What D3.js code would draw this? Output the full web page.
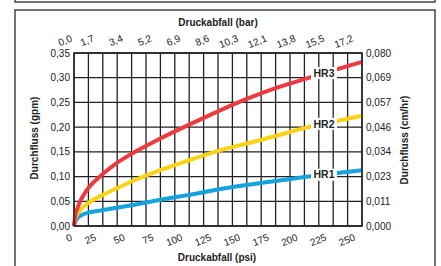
<!DOCTYPE html>
<html>
<head>
<meta charset="utf-8">
<script src="https://cdn.jsdelivr.net/npm/d3@7"></script>
<style>
  body { margin: 0; background: #fff; }
  text { font-family: "Liberation Sans", Arial, sans-serif; fill: #222; }
</style>
</head>
<body>
<div id="chart"></div>
<script>
"use strict";

var w = 441,
  h = 266;

// pressure drop (psi) sample points shared by all series
var psi = [0, 1, 3, 5, 11, 25, 37, 50, 75, 100, 125, 150, 175, 200, 225, 250];
var hr1 = [0, 0.008, 0.016, 0.020, 0.026, 0.032, 0.037, 0.042, 0.053, 0.063, 0.074, 0.083, 0.091, 0.099, 0.106, 0.113];
var hr2 = [0, 0.014, 0.024, 0.031, 0.044, 0.063, 0.076, 0.090, 0.113, 0.133, 0.152, 0.167, 0.182, 0.198, 0.211, 0.223];
var hr3 = [0, 0.020, 0.036, 0.048, 0.072, 0.105, 0.127, 0.146, 0.177, 0.205, 0.232, 0.257, 0.279, 0.297, 0.315, 0.332];
var seriesNames = ["HR1", "HR2", "HR3"];
var seriesColors = ["#14a3df", "#fcd215", "#ec3a40"];

var psiTicks = [0, 25, 50, 75, 100, 125, 150, 175, 200, 225, 250];
var barLabels = ["0,0", "1,7", "3,4", "5,2", "6,9", "8,6", "10,3", "12,1", "13,8", "15,5", "17,2"];
var gpmTicks = [0, 0.05, 0.10, 0.15, 0.20, 0.25, 0.30, 0.35];
var cmhrLabels = ["0,000", "0,011", "0,023", "0,034", "0,046", "0,057", "0,069", "0,080"];
var labelPsi = 217;

var svg = d3.select("#chart").append("svg").attr("width", w).attr("height", h);

var x = d3.scaleLinear().domain([0, 250]).range([74, 362]);
var y = d3.scaleLinear().domain([0, 0.35]).range([226, 53]);

// outer frames
svg.append("path")
  .attr("d", "M15,0V2H435V0")
  .attr("fill", "none").attr("stroke", "#444").attr("stroke-width", 1.5);
svg.append("rect")
  .attr("x", 15).attr("y", 10).attr("width", 420).attr("height", 270)
  .attr("fill", "none").attr("stroke", "#444").attr("stroke-width", 1.5);

// grid
var grid = svg.append("g").attr("stroke", "#222").attr("stroke-width", 1.3);
d3.range(0, 250.1, 12.5).forEach(function (p) {
  grid.append("line").attr("x1", x(p)).attr("x2", x(p)).attr("y1", y(0)).attr("y2", y(0.35));
});
gpmTicks.forEach(function (g) {
  grid.append("line").attr("x1", x(0)).attr("x2", x(250)).attr("y1", y(g)).attr("y2", y(g));
});

// curves
var line = d3.line()
  .x(function (d) { return x(d[0]); })
  .y(function (d) { return y(d[1]); })
  .curve(d3.curveMonotoneX);

[hr1, hr2, hr3].forEach(function (vals, i) {
  var pts = psi.map(function (p, j) { return [p, vals[j]]; });
  svg.append("path")
    .datum(pts)
    .attr("d", line)
    .attr("fill", "none")
    .attr("stroke", seriesColors[i])
    .attr("stroke-width", 4)
    .attr("stroke-linecap", "butt");

  var yv = d3.scaleLinear().domain(psi).range(vals)(labelPsi);
  var lg = svg.append("g").attr("transform", "translate(" + x(labelPsi) + "," + y(yv) + ")");
  lg.append("rect").attr("x", -13).attr("y", -6).attr("width", 26).attr("height", 12).attr("fill", "#fff");
  lg.append("text")
    .attr("text-anchor", "middle").attr("dy", "0.36em")
    .attr("font-size", 10.5).attr("font-weight", "bold")
    .text(seriesNames[i]);
});

// plot border
svg.append("rect")
  .attr("x", x(0)).attr("y", y(0.35))
  .attr("width", x(250) - x(0)).attr("height", y(0) - y(0.35))
  .attr("fill", "none").attr("stroke", "#222").attr("stroke-width", 1.4);

// left axis labels
svg.append("g").selectAll("text").data(gpmTicks).join("text")
  .attr("x", 70).attr("y", function (d) { return y(d); })
  .attr("dy", "0.35em").attr("text-anchor", "end").attr("font-size", 10)
  .text(function (d) { return d3.format(".2f")(d).replace(".", ","); });

// right axis labels
svg.append("g").selectAll("text").data(cmhrLabels).join("text")
  .attr("x", 366).attr("y", function (d, i) { return y(gpmTicks[i]); })
  .attr("dy", "0.35em").attr("font-size", 10)
  .text(function (d) { return d; });

// bottom psi labels
svg.append("g").selectAll("text").data(psiTicks).join("text")
  .attr("transform", function (d) {
    return "translate(" + (x(d) - (d === 0 ? 1 : 6)) + ",240) rotate(-22)";
  })
  .attr("text-anchor", "end").attr("font-size", 10)
  .text(function (d) { return d; });

// top bar labels
svg.append("g").selectAll("text").data(barLabels).join("text")
  .attr("transform", function (d, i) {
    return "translate(" + (x(psiTicks[i]) - (i === 0 ? 1 : 8)) + ",41) rotate(-22)";
  })
  .attr("text-anchor", "end").attr("font-size", 10)
  .text(function (d) { return d; });

// titles
svg.append("text").attr("x", 218).attr("y", 26).attr("text-anchor", "middle")
  .attr("font-size", 10).attr("font-weight", "bold").text("Druckabfall (bar)");
svg.append("text").attr("x", 217).attr("y", 261).attr("text-anchor", "middle")
  .attr("font-size", 10).attr("font-weight", "bold").text("Druckabfall (psi)");
svg.append("text").attr("transform", "translate(38,138) rotate(-90)").attr("text-anchor", "middle")
  .attr("font-size", 10).attr("font-weight", "bold").text("Durchfluss (gpm)");
svg.append("text").attr("transform", "translate(408,140) rotate(-90)").attr("text-anchor", "middle")
  .attr("font-size", 10).attr("font-weight", "bold").text("Durchfluss (cm/hr)");
</script>
</body>
</html>
